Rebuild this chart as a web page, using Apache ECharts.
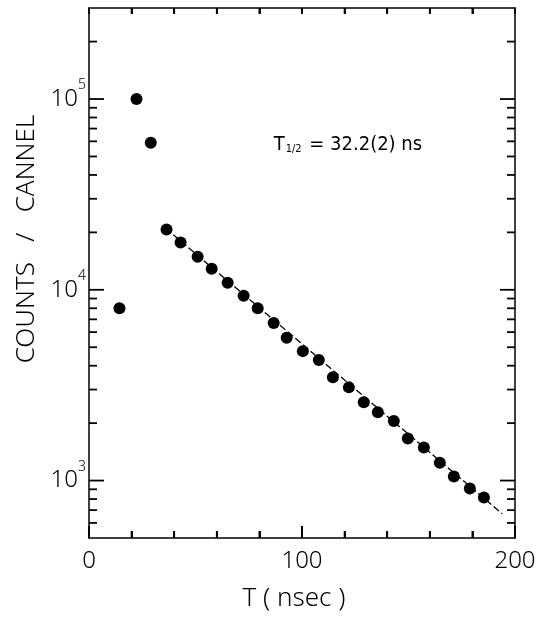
<!DOCTYPE html>
<html>
<head>
<meta charset="utf-8">
<script src="https://cdn.jsdelivr.net/npm/echarts@6.0.0/dist/echarts.min.js"></script>
<style>
  html, body { margin: 0; padding: 0; background: #fff; }
  #chart { width: 554px; height: 629px; }
</style>
</head>
<body>
<div id="chart"></div>
<script>
// decay curve
var timeNs = [14.3, 22.3, 29.0, 36.4, 43.0, 51.0, 57.6, 65.1, 72.6, 79.2, 86.7, 92.8, 100.4,
  107.9, 114.5, 122.0, 129.0, 135.6, 143.1, 149.7, 157.2, 164.7, 171.3, 178.8, 185.4];
var counts = [8000, 100000, 59000, 20700, 17700, 14900, 12900, 10900, 9300, 8000, 6700, 5600, 4770,
  4280, 3480, 3080, 2570, 2280, 2050, 1660, 1490, 1240, 1050, 908, 815];

// fitted exponential (straight on log scale), endpoints
var fitT = [36, 194];
var fitCounts = [21000, 670];

// tick marks on the frame
var xTickValues = [20, 40, 60, 80, 100, 120, 140, 160, 180];
var yTickValues = [600, 700, 800, 900, 1000,
  2000, 3000, 4000, 5000, 6000, 7000, 8000, 9000, 10000,
  20000, 30000, 40000, 50000, 60000, 70000, 80000, 90000, 100000,
  200000];

var halfLifeText = ['T', '1/2', ' = 32.2(2) ns'];
var halfLifeAt = [86.7, 57500];

var FONT = '"Noto Sans"';
var WEIGHT = 300;
var NARROW = '"DejaVu Sans Condensed"';

var chart = echarts.init(document.getElementById('chart'));

var scatterData = timeNs.map(function(t, i) { return [t, counts[i]]; });
var fitData = fitT.map(function(t, i) { return [t, fitCounts[i]]; });
var yTickData = yTickValues.map(function(v) { return [0, v]; });
var xTickData = xTickValues.map(function(t) { return [t, 1000]; });

function isDecade(v) {
  var l = Math.log10(v);
  return Math.abs(l - Math.round(l)) < 1e-6;
}

function tickLine(x1, y1, x2, y2) {
  return { type: 'line', shape: { x1: x1, y1: y1, x2: x2, y2: y2 },
    style: { stroke: '#000', lineWidth: 1.8 } };
}

var frameLine = { show: true, onZero: false, lineStyle: { color: '#000', width: 1.5 } };

var option = {
  backgroundColor: '#fff',
  animation: false,
  grid: { left: 89, right: 39, top: 8, bottom: 91 },
  xAxis: [
    {
      type: 'value', min: 0, max: 200, interval: 100,
      position: 'bottom',
      axisLine: frameLine,
      axisTick: { show: true, inside: true, length: 12, lineStyle: { color: '#000', width: 1.8 } },
      minorTick: { show: true, splitNumber: 5, length: 7, lineStyle: { color: '#000', width: 1.8 } },
      splitLine: { show: false },
      name: 'T ( nsec )',
      nameLocation: 'middle',
      nameGap: 48,
      nameTextStyle: { color: '#000', fontFamily: FONT, fontWeight: WEIGHT, fontSize: 26, padding: [0, 16, 0, 0] },
      axisLabel: { color: '#000', fontFamily: FONT, fontWeight: WEIGHT, fontSize: 24, margin: 11 }
    },
    {
      type: 'value', min: 0, max: 200, interval: 100,
      position: 'top',
      axisLine: frameLine,
      axisTick: { show: true, inside: true, length: 6, lineStyle: { color: '#000', width: 1.8 } },
      minorTick: { show: true, splitNumber: 5, length: 6, lineStyle: { color: '#000', width: 1.8 } },
      splitLine: { show: false },
      axisLabel: { show: false }
    }
  ],
  yAxis: [
    {
      type: 'log', logBase: 10, min: 500, max: 300000,
      position: 'left',
      axisLine: frameLine,
      axisTick: { show: false },
      splitLine: { show: false },
      name: 'COUNTS   /   CANNEL',
      nameLocation: 'middle',
      nameGap: 42,
      nameTextStyle: { color: '#000', fontFamily: FONT, fontWeight: WEIGHT, fontSize: 26, padding: [0, 0, 0, 68] },
      axisLabel: {
        margin: 3,
        formatter: function(v) {
          if (!isDecade(v)) return '';
          return '{b|10}{s|' + Math.round(Math.log10(v)) + '}';
        },
        rich: {
          b: { color: '#000', fontFamily: FONT, fontWeight: WEIGHT, fontSize: 24 },
          s: { color: '#000', fontFamily: FONT, fontWeight: WEIGHT, fontSize: 14, padding: [0, 0, 28, 0] }
        }
      }
    },
    {
      type: 'log', logBase: 10, min: 500, max: 300000,
      position: 'right',
      axisLine: frameLine,
      axisTick: { show: false },
      splitLine: { show: false },
      axisLabel: { show: false }
    }
  ],
  series: [
    {
      // y ticks, left and right frame, pointing inward
      type: 'custom',
      xAxisIndex: 0,
      yAxisIndex: 0,
      silent: true,
      clip: false,
      data: yTickData,
      renderItem: function(params, api) {
        var cs = params.coordSys;
        var v = api.value(1);
        var y = api.coord([0, v])[1];
        var len = isDecade(v) ? 15 : 8;
        return {
          type: 'group',
          children: [
            tickLine(cs.x, y, cs.x + len, y),
            tickLine(cs.x + cs.width - len, y, cs.x + cs.width, y)
          ]
        };
      }
    },
    {
      // x ticks, bottom and top frame, pointing inward
      type: 'custom',
      xAxisIndex: 0,
      yAxisIndex: 0,
      silent: true,
      clip: false,
      data: xTickData,
      renderItem: function(params, api) {
        var cs = params.coordSys;
        var t = api.value(0);
        var x = api.coord([t, 1000])[0];
        var bottom = cs.y + cs.height;
        var len = (t % 100 === 0) ? 12 : 7;
        return {
          type: 'group',
          children: [
            tickLine(x, bottom, x, bottom - len),
            tickLine(x, cs.y, x, cs.y + 6)
          ]
        };
      }
    },
    {
      type: 'line',
      data: fitData,
      symbol: 'none',
      lineStyle: { color: '#000', width: 1.3, type: [7, 3] },
      z: 2,
      markPoint: {
        symbol: 'circle',
        symbolSize: 0,
        data: [{
          coord: halfLifeAt,
          label: {
            show: true,
            position: 'right',
            distance: 0,
            formatter: '{t|' + halfLifeText[0] + '}{sub|' + halfLifeText[1] + '}{t|' + halfLifeText[2] + '}',
            rich: {
              t: { color: '#000', fontFamily: NARROW, fontSize: 20 },
              sub: { color: '#000', fontFamily: NARROW, fontSize: 11, padding: [8, 2, 0, 1] }
            }
          }
        }]
      }
    },
    {
      type: 'scatter',
      data: scatterData,
      symbol: 'circle',
      symbolSize: 12,
      itemStyle: { color: '#000', opacity: 1 },
      z: 3
    }
  ]
};

chart.setOption(option);
</script>
</body>
</html>
